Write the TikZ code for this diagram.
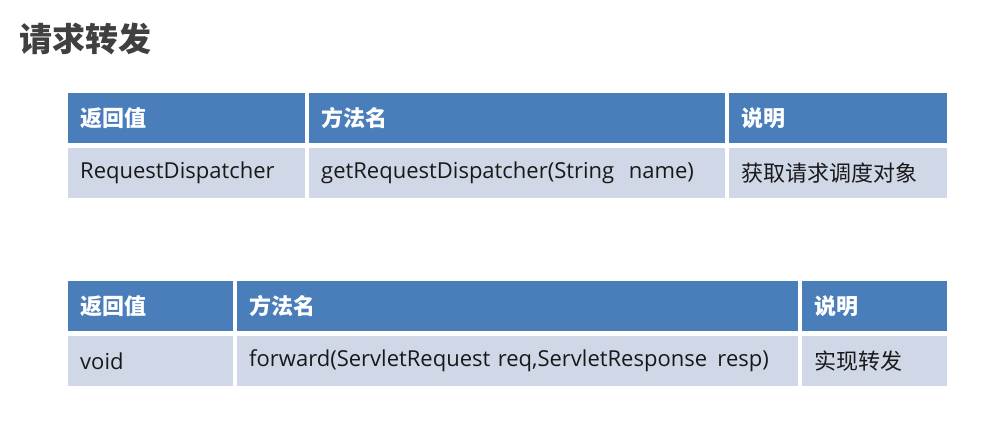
\documentclass[tikz,border=0pt]{standalone}
\usepackage{fontspec}
\setmainfont{Open Sans}
\newfontfamily\cjk{Noto Sans CJK SC}
\usetikzlibrary{positioning}
\definecolor{headblue}{RGB}{74,126,187}
\definecolor{rowblue}{RGB}{208,216,232}
\definecolor{titlegray}{RGB}{64,64,64}

\begin{document}
\begin{tikzpicture}[x=1pt, y=-1pt,
    every node/.style={anchor=north west, inner xsep=12pt, inner ysep=0pt, minimum height=50pt, align=left, font=\fontsize{22}{26}\selectfont},
    headcell/.style={fill=headblue, text=white, font=\cjk\bfseries\fontsize{22}{26}\selectfont},
    rowcell/.style={fill=rowblue, text=black!90}]
  \useasboundingbox (0,0) rectangle (995,433);
  \node[anchor=west, inner sep=0pt, minimum height=0pt, text=titlegray, font=\cjk\bfseries\fontsize{33}{38}\selectfont] (title) at (19,39) {请求转发};
  % first table
  \node[headcell, text width=213pt] (ret1) at (68,93) {返回值};
  \node[headcell, text width=392pt] (meth1) at (309,93) {方法名};
  \node[headcell, text width=194pt] (desc1) at (729,93) {说明};
  \node[rowcell, text width=213pt] (retval1) at (68,148) {RequestDispatcher};
  \node[rowcell, text width=392pt] (methval1) at (309,148) {getRequestDispatcher(String\ \ name)};
  \node[rowcell, text width=194pt] (descval1) at (729,148) {\cjk 获取请求调度对象};
  % second table
  \node[headcell, text width=141pt] (ret2) at (68,281) {返回值};
  \node[headcell, text width=537pt] (meth2) at (237,281) {方法名};
  \node[headcell, text width=121pt] (desc2) at (802,281) {说明};
  \node[rowcell, text width=141pt] (retval2) at (68,336) {void};
  \node[rowcell, text width=537pt] (methval2) at (237,336) {forward(ServletRequest req,ServletResponse\hspace{3pt} resp)};
  \node[rowcell, text width=121pt] (descval2) at (802,336) {\cjk 实现转发};
\end{tikzpicture}
\end{document}
